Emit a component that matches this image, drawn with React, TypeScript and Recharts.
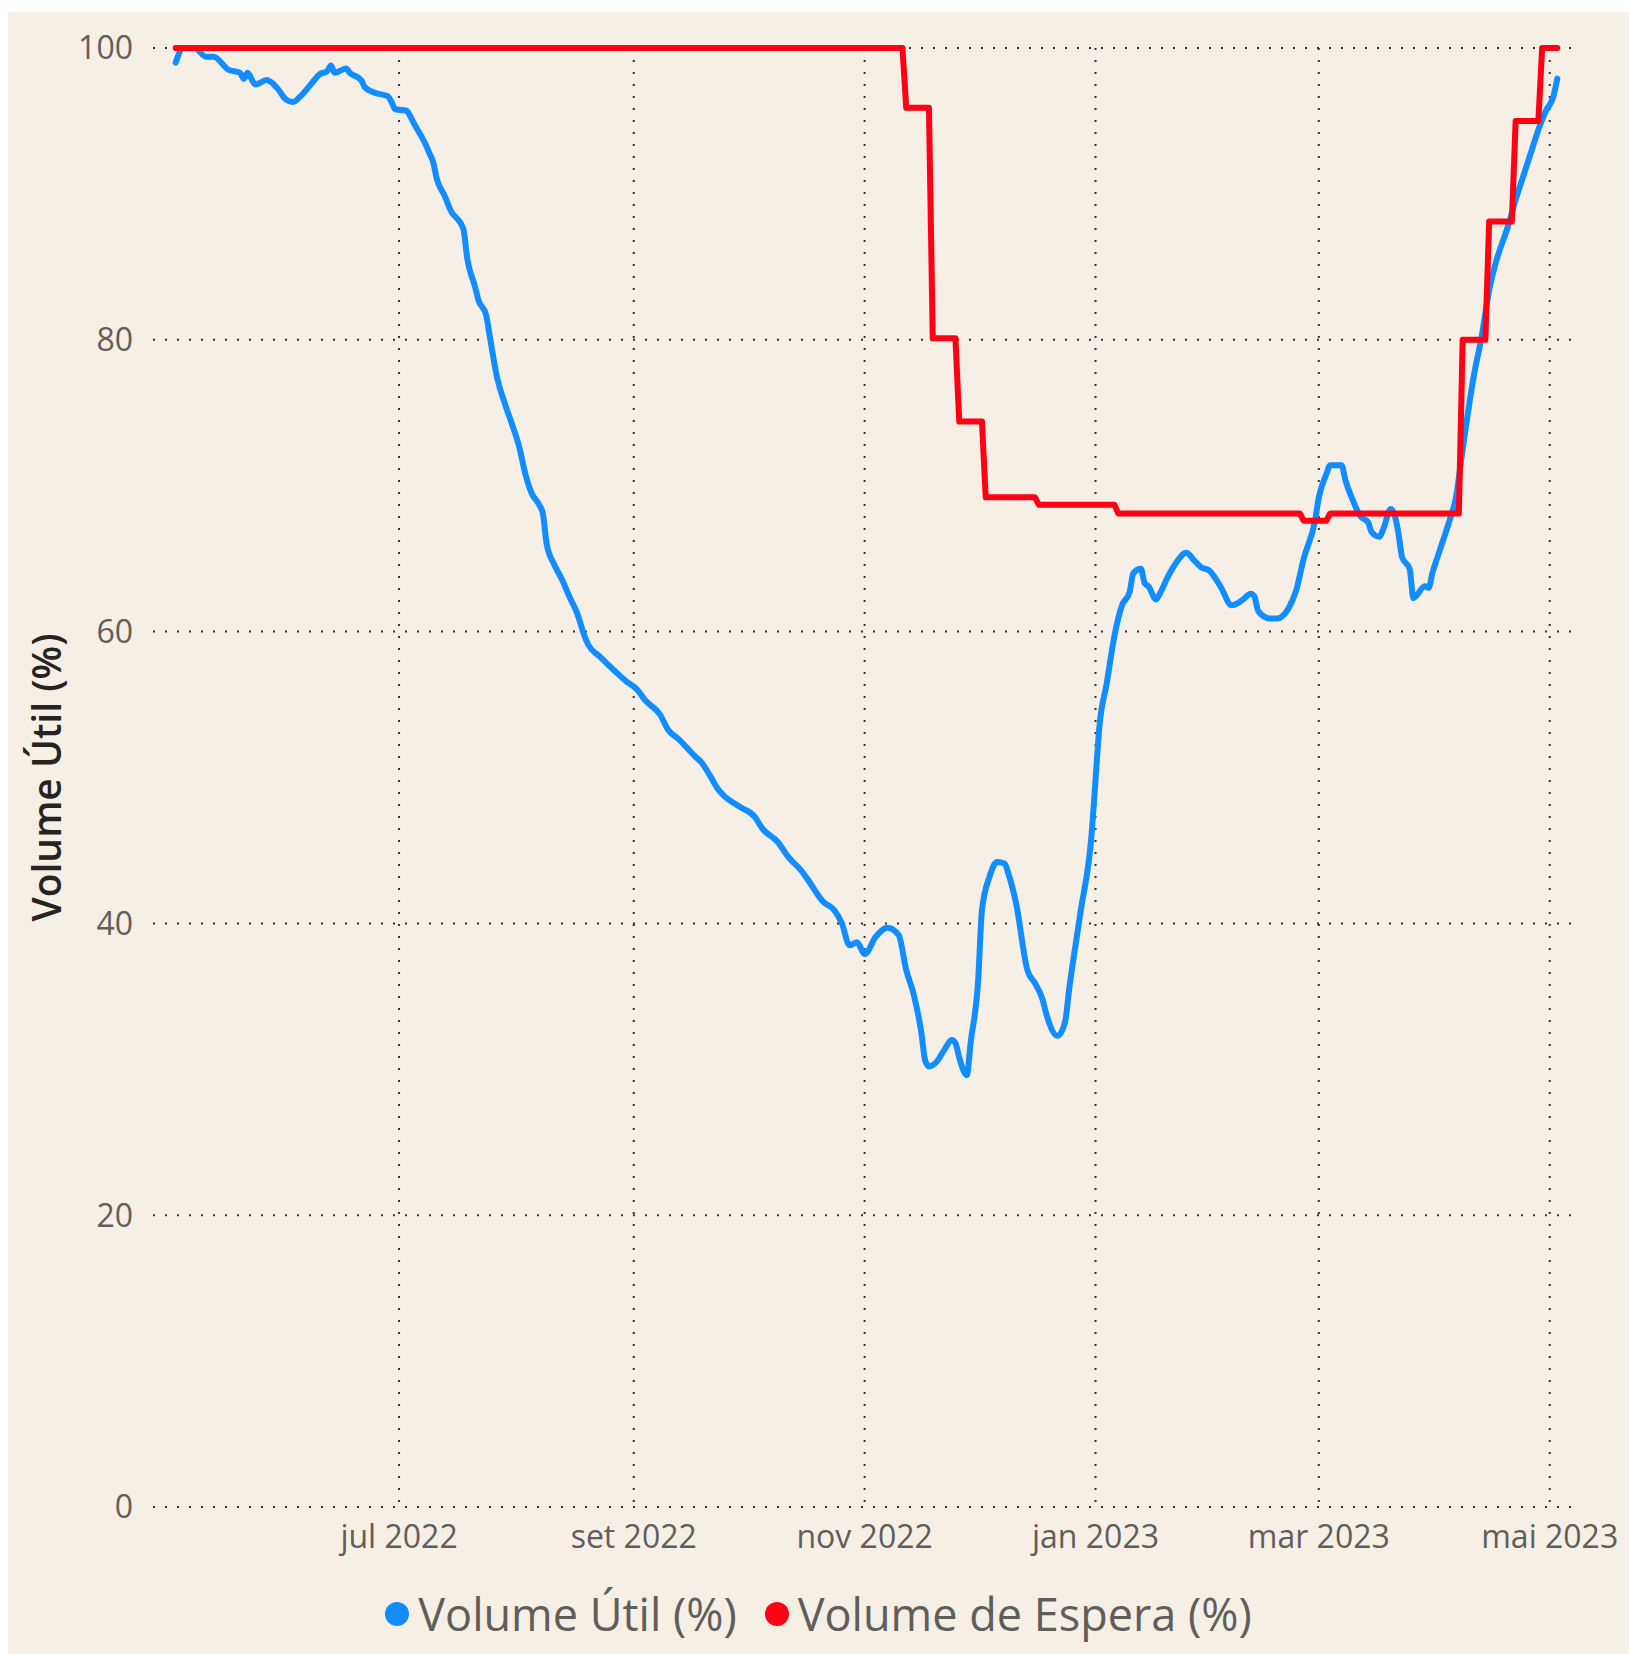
import { CartesianGrid, Line, LineChart, XAxis, YAxis } from "recharts"

// Volume Útil (%) – leitura diária aproximada
const utilDates = [
    "2022-05-03", "2022-05-05", "2022-05-08", "2022-05-11", "2022-05-13", "2022-05-17", "2022-05-20", "2022-05-21",
    "2022-05-22", "2022-05-24", "2022-05-27", "2022-05-28", "2022-05-30", "2022-06-01", "2022-06-03", "2022-06-05",
    "2022-06-08", "2022-06-10", "2022-06-12", "2022-06-13", "2022-06-14", "2022-06-17", "2022-06-18", "2022-06-21",
    "2022-06-22", "2022-06-25", "2022-06-28", "2022-06-29", "2022-06-30", "2022-07-03", "2022-07-04", "2022-07-05",
    "2022-07-07", "2022-07-08", "2022-07-09", "2022-07-10", "2022-07-11", "2022-07-13", "2022-07-15", "2022-07-16",
    "2022-07-18", "2022-07-19", "2022-07-21", "2022-07-22", "2022-07-24", "2022-07-25", "2022-07-27", "2022-07-29",
    "2022-07-31", "2022-08-02", "2022-08-03", "2022-08-05", "2022-08-07", "2022-08-08", "2022-08-09", "2022-08-11",
    "2022-08-13", "2022-08-15", "2022-08-17", "2022-08-19", "2022-08-20", "2022-08-23", "2022-08-27", "2022-08-30",
    "2022-09-02", "2022-09-04", "2022-09-08", "2022-09-10", "2022-09-13", "2022-09-17", "2022-09-19", "2022-09-21",
    "2022-09-23", "2022-09-25", "2022-09-29", "2022-10-03", "2022-10-05", "2022-10-09", "2022-10-12", "2022-10-15",
    "2022-10-17", "2022-10-21", "2022-10-24", "2022-10-26", "2022-10-28", "2022-10-30", "2022-11-01", "2022-11-04",
    "2022-11-07", "2022-11-10", "2022-11-12", "2022-11-14", "2022-11-16", "2022-11-17", "2022-11-18", "2022-11-20",
    "2022-11-22", "2022-11-24", "2022-11-25", "2022-11-26", "2022-11-28", "2022-11-29", "2022-12-01", "2022-12-02",
    "2022-12-04", "2022-12-06", "2022-12-08", "2022-12-09", "2022-12-11", "2022-12-14", "2022-12-16", "2022-12-18",
    "2022-12-19", "2022-12-22", "2022-12-24", "2022-12-25", "2022-12-28", "2022-12-31", "2023-01-01", "2023-01-02",
    "2023-01-04", "2023-01-06", "2023-01-08", "2023-01-10", "2023-01-11", "2023-01-13", "2023-01-14", "2023-01-15",
    "2023-01-17", "2023-01-18", "2023-01-20", "2023-01-22", "2023-01-25", "2023-01-27", "2023-01-29", "2023-01-31",
    "2023-02-03", "2023-02-06", "2023-02-09", "2023-02-11", "2023-02-12", "2023-02-13", "2023-02-16", "2023-02-18",
    "2023-02-21", "2023-02-23", "2023-02-25", "2023-02-28", "2023-03-01", "2023-03-03", "2023-03-04", "2023-03-07",
    "2023-03-08", "2023-03-10", "2023-03-12", "2023-03-14", "2023-03-15", "2023-03-17", "2023-03-18", "2023-03-20",
    "2023-03-21", "2023-03-22", "2023-03-23", "2023-03-25", "2023-03-26", "2023-03-29", "2023-03-30", "2023-03-31",
    "2023-04-02", "2023-04-05", "2023-04-06", "2023-04-08", "2023-04-09", "2023-04-11", "2023-04-13", "2023-04-15",
    "2023-04-17", "2023-04-20", "2023-04-22", "2023-04-24", "2023-04-26", "2023-04-28", "2023-04-30", "2023-05-02",
    "2023-05-03",
]
const utilValues = [
    99.0, 100.0, 100.0, 99.4, 99.4, 98.5, 98.3, 97.9,
    98.3, 97.5, 97.8, 97.7, 97.2, 96.5, 96.3, 96.7,
    97.6, 98.2, 98.4, 98.8, 98.3, 98.6, 98.3, 97.8,
    97.3, 96.9, 96.7, 96.3, 95.8, 95.7, 95.3, 94.8,
    93.9, 93.4, 92.8, 92.2, 91.0, 89.9, 88.7, 88.4,
    87.6, 85.6, 83.7, 82.7, 81.7, 80.2, 77.3, 75.6,
    74.1, 72.4, 71.2, 69.5, 68.7, 68.1, 66.0, 64.6,
    63.6, 62.4, 61.3, 59.7, 59.1, 58.3, 57.3, 56.6,
    56.0, 55.3, 54.3, 53.3, 52.6, 51.5, 51.0, 50.2,
    49.3, 48.7, 48.0, 47.3, 46.5, 45.6, 44.5, 43.7,
    43.0, 41.5, 40.9, 40.0, 38.5, 38.7, 37.9, 39.1,
    39.7, 39.2, 36.8, 35.1, 32.5, 30.6, 30.2, 30.5,
    31.3, 32.0, 31.8, 30.8, 29.6, 31.8, 36.1, 40.9,
    43.2, 44.2, 44.1, 43.4, 41.4, 36.8, 35.9, 34.8,
    33.8, 32.3, 33.3, 35.4, 40.7, 46.2, 49.8, 53.4,
    56.5, 59.7, 61.8, 62.7, 64.0, 64.3, 63.3, 63.1,
    62.2, 62.6, 63.7, 64.6, 65.4, 64.9, 64.4, 64.2,
    63.1, 61.8, 62.2, 62.6, 62.4, 61.4, 60.9, 60.9,
    61.6, 62.8, 65.0, 67.6, 69.2, 70.8, 71.4, 71.4,
    70.4, 69.0, 67.9, 67.5, 66.8, 66.5, 67.0, 68.4,
    68.0, 66.8, 65.1, 64.3, 62.3, 63.1, 63.0, 64.0,
    65.6, 68.0, 68.9, 72.5, 74.3, 77.6, 80.2, 83.4,
    85.5, 87.8, 89.6, 91.2, 92.8, 94.4, 95.7, 96.7,
    97.9,
]

// Volume de Espera (%) – degraus
const esperaDates = [
    "2022-05-03", "2022-11-11", "2022-11-12", "2022-11-18", "2022-11-19", "2022-11-25", "2022-11-26", "2022-12-02",
    "2022-12-03", "2022-12-16", "2022-12-17", "2023-01-06", "2023-01-07", "2023-02-24", "2023-02-25", "2023-03-03",
    "2023-03-04", "2023-04-07", "2023-04-08", "2023-04-14", "2023-04-15", "2023-04-21", "2023-04-22", "2023-04-28",
    "2023-04-29", "2023-05-03",
]
const esperaValues = [
    100, 100, 95.9, 95.9, 80.1, 80.1, 74.4, 74.4,
    69.2, 69.2, 68.7, 68.7, 68.1, 68.1, 67.6, 67.6,
    68.1, 68.1, 80.0, 80.0, 88.1, 88.1, 95.0, 95.0,
    100, 100,
]

const tickDates = ["2022-07-01", "2022-09-01", "2022-11-01", "2023-01-01", "2023-03-01", "2023-05-01"]
const tickLabels = ["jul 2022", "set 2022", "nov 2022", "jan 2023", "mar 2023", "mai 2023"]
const yTicks = [0, 20, 40, 60, 80, 100]
const xStart = "2022-04-27T00:00:00Z"
const xEnd = "2023-05-07T10:00:00Z"

const BLUE = "#118DFF"
const RED = "#FF0014"
const FONT = "'Segoe UI', 'Open Sans', sans-serif"
const GREY = "#605E5C"

const toMs = (d: string) => Date.parse(d + "T00:00:00Z")

const utilData = utilDates.map((d, i) => ({ t: toMs(d), v: utilValues[i] }))
const esperaData = esperaDates.map((d, i) => ({ t: toMs(d), v: esperaValues[i] }))
const xTicks = tickDates.map(toMs)
const xDomain = [Date.parse(xStart), Date.parse(xEnd)]

function AxisTitle({ viewBox }: any) {
    const x = viewBox.x + 37
    const y = viewBox.y + viewBox.height / 2
    return (
        <text
            x={x}
            y={y}
            transform={`rotate(-90, ${x}, ${y})`}
            textAnchor="middle"
            dominantBaseline="central"
            fill="#252423"
            fontSize={39}
            fontWeight={600}
            fontFamily={FONT}
        >
            Volume Útil (%)
        </text>
    )
}

// vertical grid only at the month ticks (no frame lines at the plot edges)
function monthGridLines(props: any) {
    const scale = props?.xAxis?.scale
    if (typeof scale === "function") {
        const pts = xTicks.map((t) => scale(t))
        if (pts.every((p) => Number.isFinite(p))) return pts
    }
    const { left, width } = props.offset
    return xTicks.map((t) => left + (width * (t - xDomain[0])) / (xDomain[1] - xDomain[0]))
}

export default function App() {
    return (
        <div
            style={{
                position: "absolute",
                left: 8,
                top: 12,
                width: 1621,
                height: 1642,
                background: "#F6EFE5",
                fontFamily: FONT,
            }}
        >
            <LineChart width={1621} height={1642} margin={{ top: 36, right: 55, left: 0, bottom: 0 }}>
                <CartesianGrid
                    stroke="#333"
                    strokeWidth={2}
                    strokeDasharray="2 10"
                    verticalCoordinatesGenerator={monthGridLines}
                />
                <XAxis
                    dataKey="t"
                    type="number"
                    domain={xDomain}
                    ticks={xTicks}
                    tickFormatter={(v: number) => tickLabels[xTicks.indexOf(v)]}
                    axisLine={false}
                    tickLine={false}
                    tickSize={0}
                    tickMargin={18}
                    height={147}
                    tick={{ fill: GREY, fontSize: 32, fontFamily: FONT }}
                    allowDuplicatedCategory={false}
                />
                <YAxis
                    domain={[0, 100]}
                    ticks={yTicks}
                    axisLine={false}
                    tickLine={false}
                    tickSize={0}
                    tickMargin={20}
                    width={145}
                    tick={{ fill: GREY, fontSize: 32, fontFamily: FONT }}
                    label={(props: any) => <AxisTitle {...props} />}
                />
                <Line
                    data={utilData}
                    dataKey="v"
                    type="monotone"
                    stroke={BLUE}
                    strokeWidth={6}
                    strokeLinecap="round"
                    strokeLinejoin="round"
                    dot={false}
                    isAnimationActive={false}
                />
                <Line
                    data={esperaData}
                    dataKey="v"
                    type="linear"
                    stroke={RED}
                    strokeWidth={6}
                    strokeLinecap="round"
                    strokeLinejoin="round"
                    dot={false}
                    isAnimationActive={false}
                />
            </LineChart>

            {/* legenda */}
            <div
                style={{
                    position: "absolute",
                    top: 1578,
                    left: 0,
                    width: 1621,
                    height: 48,
                    display: "flex",
                    justifyContent: "center",
                    alignItems: "center",
                    color: GREY,
                    fontSize: 45,
                    lineHeight: "48px",
                }}
            >
                {[
                    { name: "Volume Útil (%)", color: BLUE },
                    { name: "Volume de Espera (%)", color: RED },
                ].map((item, i) => (
                    <div key={item.name} style={{ display: "flex", alignItems: "center", marginLeft: i ? 28 : 0 }}>
                        <span
                            style={{
                                width: 24,
                                height: 24,
                                borderRadius: 12,
                                background: item.color,
                                display: "inline-block",
                                marginRight: 9,
                            }}
                        />
                        <span>{item.name}</span>
                    </div>
                ))}
            </div>
        </div>
    )
}
